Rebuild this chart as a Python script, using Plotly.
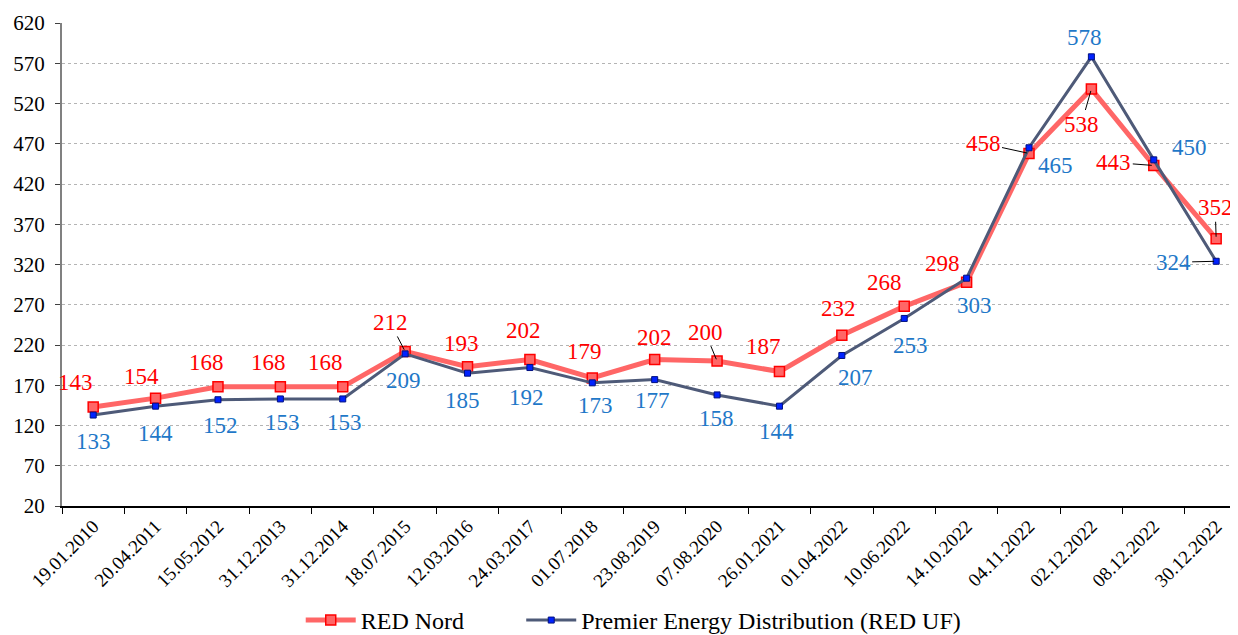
import plotly.graph_objects as go

dates = ["19.01.2010", "20.04.2011", "15.05.2012", "31.12.2013", "31.12.2014",
         "18.07.2015", "12.03.2016", "24.03.2017", "01.07.2018", "23.08.2019",
         "07.08.2020", "26.01.2021", "01.04.2022", "10.06.2022", "14.10.2022",
         "04.11.2022", "02.12.2022", "08.12.2022", "30.12.2022"]
red_nord = [143, 154, 168, 168, 168, 212, 193, 202, 179, 202, 200, 187, 232, 268,
            298, 458, 538, 443, 352]
premier = [133, 144, 152, 153, 153, 209, 185, 192, 173, 177, 158, 144, 207, 253,
           303, 465, 578, 450, 324]
y_ticks = list(range(20, 621, 50))

# label offsets in pixels (dx right, dy up)
red_dx = [-18, -14, -11, -12, -17, -15, -6, -6, -8, 0, -12, -16, -3, -20, -24, -46, -10, -40, -1]
red_dy = [24, 22, 24, 24, 24, 29, 23, 29, 27, 22, 29, 25, 27, 24, 19, 10, -35, 3, 31]
red_leader = [5, 10, 15, 16, 17, 18]
blue_dx = [0, 0, 3, 2, 2, -2, -5, -3, 3, -2, -1, -3, 14, 6, 8, 26, -7, 36, -43]
blue_dy = [-26, -27, -26, -24, -24, -27, -27, -30, -23, -21, -24, -25, -22, -27, -27, -18, 19, 12, -1]
blue_leader = [18]

FONT = "Liberation Serif"
RED_LINE = "#FF6666"
RED_TXT = "#FF0000"
BLUE_LINE = "#4E5A78"
BLUE_TXT = "#1F78C8"

fig = go.Figure()
fig.add_trace(go.Scatter(
    x=dates, y=red_nord, name="RED Nord", mode="lines+markers",
    line=dict(color=RED_LINE, width=5), legend="legend",
    marker=dict(symbol="square", size=10, color=RED_LINE,
                line=dict(color=RED_TXT, width=1.5)),
))
fig.add_trace(go.Scatter(
    x=dates, y=premier, name="Premier Energy Distribution (RED UF)", mode="lines+markers",
    line=dict(color=BLUE_LINE, width=3), legend="legend2",
    marker=dict(symbol="square", size=6, color="#0022FF",
                line=dict(color="#001080", width=1)),
))

annotations = []
for i, (d, v) in enumerate(zip(dates, red_nord)):
    lead = i in red_leader
    annotations.append(dict(
        x=d, y=v, xref="x", yref="y", text=str(v), showarrow=True,
        ax=red_dx[i], ay=-red_dy[i], axref="pixel", ayref="pixel",
        arrowhead=0, arrowwidth=1,
        arrowcolor="#000000" if lead else "rgba(0,0,0,0)",
        standoff=2,
        font=dict(family=FONT, size=23, color=RED_TXT)))
for i, (d, v) in enumerate(zip(dates, premier)):
    lead = i in blue_leader
    annotations.append(dict(
        x=d, y=v, xref="x", yref="y", text=str(v), showarrow=True,
        ax=blue_dx[i], ay=-blue_dy[i], axref="pixel", ayref="pixel",
        arrowhead=0, arrowwidth=1,
        arrowcolor="#000000" if lead else "rgba(0,0,0,0)",
        standoff=2,
        font=dict(family=FONT, size=23, color=BLUE_TXT)))

legend_common = dict(orientation="h", xanchor="left", y=-0.237, yanchor="middle",
                     itemwidth=50,
                     font=dict(family=FONT, size=24, color="#000000"),
                     bgcolor="rgba(0,0,0,0)")

fig.update_layout(
    width=1230, height=627,
    margin=dict(l=54, r=0, t=15, b=129, autoexpand=False),
    paper_bgcolor="white", plot_bgcolor="white",
    font=dict(family=FONT, color="#000000"),
    annotations=annotations,
    showlegend=True,
    legend=dict(x=0.203, **legend_common),
    legend2=dict(x=0.3905, **legend_common),
)
fig.update_xaxes(
    type="category", categoryorder="array", categoryarray=dates, automargin=False,
    range=[-0.5, 18.35], tickangle=-45, ticks="outside", tickson="boundaries",
    ticklen=6, tickcolor="#000000", showline=True, linecolor="#000000", linewidth=1.5,
    showgrid=False, tickfont=dict(family=FONT, size=19, color="#000000"),
)
fig.update_yaxes(
    range=[20, 620], tickvals=y_ticks, ticktext=[str(t) for t in y_ticks], automargin=False,
    showgrid=True, gridcolor="#B4B4B4", gridwidth=1, griddash="dot",
    showline=True, linecolor="#808080", linewidth=2, ticks="outside", ticklen=5,
    tickcolor="#404040", zeroline=False, ticklabelstandoff=6,
    tickfont=dict(family=FONT, size=21, color="#000000"),
)

fig.write_html("out.html")
